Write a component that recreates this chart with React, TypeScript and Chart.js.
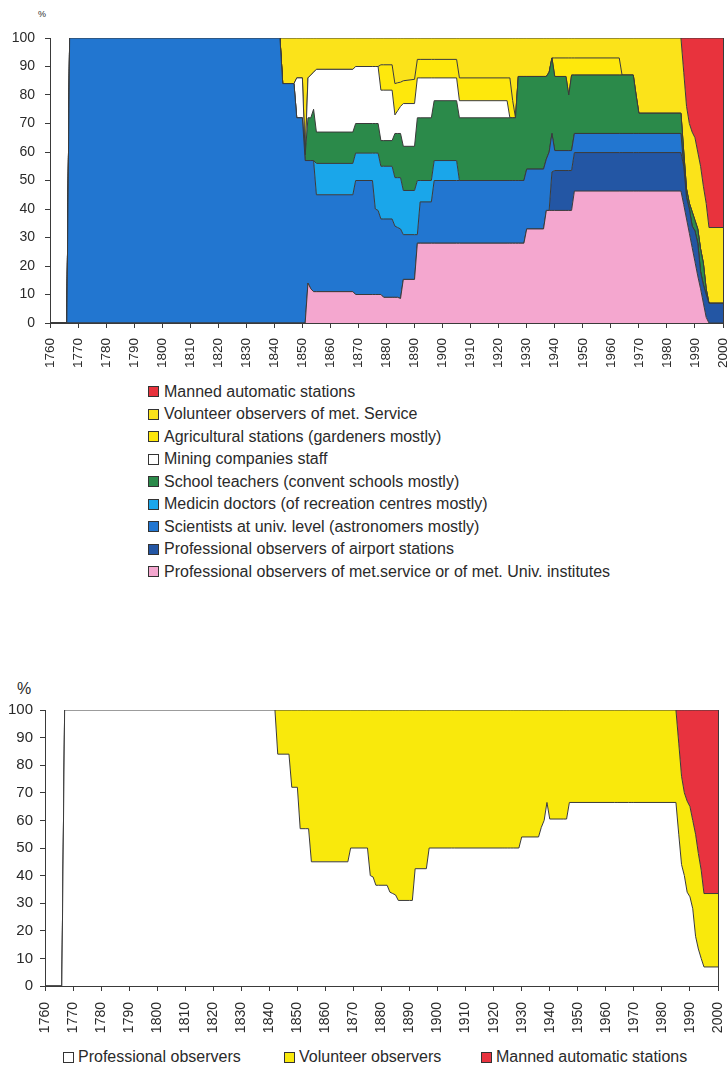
import React, { useEffect, useRef } from 'react';
import { Chart, registerables } from 'chart.js';

Chart.register(...registerables);

// ---------- DATA (% of stations, stacked bottom -> top) ----------
const years = [
  1760, 1766, 1767, 1842, 1843, 1847, 1848, 1850, 1851, 1852,
  1853, 1854, 1855, 1868, 1869, 1875, 1876, 1877, 1878, 1879,
  1882, 1883, 1884, 1885, 1886, 1890, 1891, 1892, 1896, 1897,
  1905, 1906, 1923, 1924, 1925, 1926, 1927, 1929, 1930, 1936,
  1937, 1938, 1939, 1940, 1944, 1945, 1946, 1947, 1963, 1964,
  1968, 1969, 1970, 1985, 1986, 1987, 1988, 1989, 1990, 1991,
  1992, 1993, 1994, 1995, 2000,
];

const profMet = [
  0, 0, 0, 0, 0, 0, 0, 0, 0, 14,
  12, 11, 11, 11, 10, 10, 10, 10, 10, 9,
  9, 9, 9, 8.6, 15.3, 15.3, 28, 28, 28, 28,
  28, 28, 28, 28, 28, 28, 28, 28, 33, 33,
  39.5, 39.5, 39.5, 39.5, 39.5, 39.5, 39.5, 46.3, 46.3, 46.3,
  46.3, 46.3, 46.3, 46.3, 41.5, 36.5, 31.5, 26.5, 21.5, 16.5,
  12, 7, 2, 0, 0,
];

const airport = [
  0, 0, 0, 0, 0, 0, 0, 0, 0, 0,
  0, 0, 0, 0, 0, 0, 0, 0, 0, 0,
  0, 0, 0, 0, 0, 0, 0, 0, 0, 0,
  0, 0, 0, 0, 0, 0, 0, 0, 0, 0,
  0, 0, 13.5, 14, 14, 14, 14, 13.5, 13.5, 13.5,
  13.5, 13.5, 13.5, 13.5, 13.5, 7.5, 8.5, 7.5, 10.8, 11.5,
  6, 6.4, 8, 6.9, 6.9,
];

const scientists = [
  0, 0, 100, 100, 84, 84, 72, 72, 57, 43,
  45, 46, 34, 34, 40, 40, 30, 29.5, 26.5, 27.5,
  27.5, 25, 24.5, 24.4, 15.7, 15.7, 3, 14.5, 14.5, 22,
  22, 22, 22, 22, 22, 22, 22, 22, 21, 21,
  18, 20.5, 13.5, 7, 7, 7, 7, 6.7, 6.7, 6.7,
  6.7, 6.7, 6.7, 6.7, 0, 0, 0, 0, 0, 0,
  0, 0, 0, 0, 0,
];

const medicin = [
  0, 0, 0, 0, 0, 0, 0, 0, 0, 0,
  0, 0, 11, 11, 9.6, 9.6, 19.6, 20.1, 18.5, 18.5,
  18.5, 17, 17.5, 18, 15.5, 15.5, 19, 7.5, 7.5, 7,
  7, 0, 0, 0, 0, 0, 0, 0, 0, 0,
  0, 0, 0, 0, 0, 0, 0, 0, 0, 0,
  0, 0, 0, 0, 0, 0, 0, 0, 0, 0,
  0, 0, 0, 0, 0,
];

const teachers = [
  0, 0, 0, 0, 0, 0, 0, 0, 2, 15,
  15, 18, 11, 11, 10.4, 10.4, 10.4, 10.4, 9, 9,
  9, 15.5, 15.5, 15.5, 15.5, 15.5, 22, 22, 22, 21,
  21, 22, 22, 22, 22, 22, 36.5, 36.5, 32.5, 32.5,
  29, 28, 26.5, 26, 26, 19.5, 26.5, 20.5, 20.5, 20.5,
  20.5, 13.5, 7.1, 7.1, 5, 3, 2, 5, 3.7, 5,
  8, 7.6, 2, 0, 0,
];

const mining = [
  0, 0, 0, 0, 0, 0, 14, 14, 0, 14,
  15, 13, 22, 22, 20, 20, 20, 20, 17.7, 17.7,
  17.7, 6.5, 8, 9.5, 15, 15, 14, 14, 14, 8,
  8, 6, 6, 0, 0, 0, 0, 0, 0, 0,
  0, 0, 0, 0, 0, 0, 0, 0, 0, 0,
  0, 0, 0, 0, 0, 0, 0, 0, 0, 0,
  0, 0, 0, 0, 0,
];

const agricultural = [
  0, 0, 0, 0, 0, 0, 0, 0, 0, 0,
  0, 0, 0, 0, 0, 0, 0, 0, 8.9, 8.9,
  8.9, 11, 9.8, 8.5, 8, 8.5, 6.5, 6.5, 6.5, 6.5,
  6.5, 8, 8, 14, 6, 0, 0, 0, 0, 0,
  0, 0, 0, 6.5, 6.5, 13, 6, 6, 6, 0,
  0, 0, 0, 0, 0, 0, 0, 0, 0, 0,
  0, 0, 0, 0, 0,
];

const volunteerMet = [
  0, 0, 0, 0, 16, 16, 14, 14, 41, 14,
  13, 12, 11, 11, 10, 10, 10, 10, 9.4, 9.4,
  9.4, 16, 15.7, 15.5, 15, 14.5, 7.5, 7.5, 7.5, 7.5,
  7.5, 14, 14, 14, 22, 28, 13.5, 13.5, 13.5, 13.5,
  13.5, 12, 7, 7, 7, 7, 7, 7, 7, 13,
  13, 20, 26.4, 26.4, 28, 29, 28, 28, 29, 27,
  29, 27, 30, 26.6, 26.6,
];

const manned = [
  0, 0, 0, 0, 0, 0, 0, 0, 0, 0,
  0, 0, 0, 0, 0, 0, 0, 0, 0, 0,
  0, 0, 0, 0, 0, 0, 0, 0, 0, 0,
  0, 0, 0, 0, 0, 0, 0, 0, 0, 0,
  0, 0, 0, 0, 0, 0, 0, 0, 0, 0,
  0, 0, 0, 0, 12, 24, 30, 33, 35, 40,
  45, 52, 58, 66.5, 66.5,
];

// bottom chart
const professional = [
  0, 0, 100, 100, 84, 84, 72, 72, 57, 57,
  57, 57, 45, 45, 50, 50, 40, 39.5, 36.5, 36.5,
  36.5, 34, 33.5, 33, 31, 31, 31, 42.5, 42.5, 50,
  50, 50, 50, 50, 50, 50, 50, 50, 54, 54,
  57.5, 60, 66.5, 60.5, 60.5, 60.5, 60.5, 66.5, 66.5, 66.5,
  66.5, 66.5, 66.5, 66.5, 55, 44, 40, 34, 32.3, 28,
  18, 13.4, 10, 6.9, 6.9,
];

const volunteer = [
  0, 0, 0, 0, 16, 16, 28, 28, 43, 43,
  43, 43, 55, 55, 50, 50, 60, 60.5, 63.5, 63.5,
  63.5, 66, 66.5, 67, 69, 69, 69, 57.5, 57.5, 50,
  50, 50, 50, 50, 50, 50, 50, 50, 46, 46,
  42.5, 40, 33.5, 39.5, 39.5, 39.5, 39.5, 33.5, 33.5, 33.5,
  33.5, 33.5, 33.5, 33.5, 33, 32, 30, 33, 32.7, 32,
  37, 34.6, 32, 26.6, 26.6,
];

// ---------- STYLE ----------
const FONT = '"Liberation Sans", Arial, Helvetica, sans-serif';
const TEXT = '#2a2a2a';
const LINE = '#3a3a3a';

type Series = { label: string; data: number[]; color: string };

const topSeries: Series[] = [
  { label: 'Professional observers of met.service or of met. Univ. institutes', data: profMet, color: '#f4a7cf' },
  { label: 'Professional observers of airport stations', data: airport, color: '#2356a4' },
  { label: 'Scientists at univ. level (astronomers mostly)', data: scientists, color: '#2276d0' },
  { label: 'Medicin doctors (of recreation centres mostly)', data: medicin, color: '#1aa6ea' },
  { label: 'School teachers (convent schools mostly)', data: teachers, color: '#2b8a4a' },
  { label: 'Mining companies staff', data: mining, color: '#ffffff' },
  { label: 'Agricultural stations (gardeners mostly)', data: agricultural, color: '#fee80c' },
  { label: 'Volunteer observers of met. Service', data: volunteerMet, color: '#fbe31a' },
  { label: 'Manned automatic stations', data: manned, color: '#e8333d' },
];

const bottomSeries: Series[] = [
  { label: 'Professional observers', data: professional, color: '#ffffff' },
  { label: 'Volunteer observers', data: volunteer, color: '#f9e90c' },
  { label: 'Manned automatic stations', data: manned, color: '#e8333f' },
];

type ChartCfg = {
  series: Series[];
  top: number;
  height: number;
  padTop: number;
  yWidth: number;
  rightWidth: number;
  xHeight: number;
  xFont: number;
  yFont: number;
  xPad: number;
  yPad: number;
};

function AreaChart(props: ChartCfg) {
  const ref = useRef<HTMLCanvasElement>(null);
  useEffect(() => {
    const p = props;
    const chart = new Chart(ref.current as HTMLCanvasElement, {
      type: 'line',
      data: {
        datasets: p.series.map((s, i) => ({
          label: s.label,
          data: years.map((x, j) => ({ x, y: s.data[j] })),
          backgroundColor: s.color,
          borderColor: LINE,
          borderWidth: 1,
          pointRadius: 0,
          pointHoverRadius: 0,
          tension: 0,
          fill: i === 0 ? 'origin' : '-1',
        })),
      },
      options: {
        animation: false,
        responsive: false,
        devicePixelRatio: 1,
        events: [],
        layout: { padding: { top: p.padTop, left: 0, right: 0, bottom: 0 }, autoPadding: false },
        plugins: { legend: { display: false }, tooltip: { enabled: false } },
        scales: {
          x: {
            type: 'linear',
            min: 1760,
            max: 2000,
            afterFit: (s: any) => {
              s.height = p.xHeight;
              s.paddingLeft = 0;
              s.paddingRight = 0;
            },
            ticks: {
              stepSize: 10,
              autoSkip: false,
              maxRotation: 90,
              minRotation: 90,
              padding: p.xPad,
              color: TEXT,
              font: { family: FONT, size: p.xFont },
              callback: (v: any) => String(v),
            },
            grid: { display: true, drawOnChartArea: false, drawTicks: true, tickLength: 5, color: LINE },
            border: { display: true, color: LINE, width: 1 },
          },
          y: {
            type: 'linear',
            stacked: true,
            min: 0,
            max: 100,
            afterFit: (s: any) => {
              s.width = p.yWidth;
              s.paddingTop = 0;
              s.paddingBottom = 0;
            },
            ticks: {
              stepSize: 10,
              padding: p.yPad,
              color: TEXT,
              font: { family: FONT, size: p.yFont },
            },
            grid: { display: true, drawOnChartArea: false, drawTicks: true, tickLength: 5, color: LINE },
            border: { display: true, color: LINE, width: 1 },
          },
          yr: {
            type: 'linear',
            position: 'right',
            min: 0,
            max: 100,
            afterFit: (s: any) => {
              s.width = p.rightWidth;
              s.paddingTop = 0;
              s.paddingBottom = 0;
            },
            ticks: { display: false },
            grid: { display: false, drawTicks: false },
            border: { display: true, color: LINE, width: 1 },
          },
        },
      } as any,
    });
    return () => chart.destroy();
  }, []);
  return (
    <canvas
      ref={ref}
      width={727}
      height={props.height}
      style={{ position: 'absolute', left: 0, top: props.top, width: 727, height: props.height }}
    />
  );
}

function LegendBox({ color }: { color: string }) {
  return (
    <span
      style={{
        display: 'inline-block',
        width: 11,
        height: 11,
        boxSizing: 'border-box',
        border: '1px solid #333',
        background: color,
        flex: '0 0 auto',
      }}
    />
  );
}

export default function App() {
  const topLegend = [...topSeries].reverse();
  return (
    <div
      style={{
        position: 'absolute',
        left: 0,
        top: 0,
        width: 727,
        height: 1073,
        background: '#ffffff',
        fontFamily: FONT,
        color: TEXT,
        overflow: 'hidden',
      }}
    >
      <div style={{ position: 'absolute', left: 38, top: 10, fontSize: 9, lineHeight: '9px' }}>%</div>
      <AreaChart
        series={topSeries}
        top={0}
        height={375}
        padTop={38}
        yWidth={50}
        rightWidth={4}
        xHeight={52}
        xFont={13.5}
        yFont={14}
        xPad={10}
        yPad={10}
      />
      {topLegend.map((s, i) => (
        <div
          key={s.label}
          style={{
            position: 'absolute',
            left: 148,
            top: 391.7 - 11 + i * 22.5,
            height: 22,
            display: 'flex',
            alignItems: 'center',
            fontSize: 16,
            whiteSpace: 'nowrap',
          }}
        >
          <LegendBox color={s.color} />
          <span style={{ marginLeft: 5 }}>{s.label}</span>
        </div>
      ))}

      <div style={{ position: 'absolute', left: 17, top: 681, fontSize: 16, lineHeight: '16px' }}>%</div>
      <AreaChart
        series={bottomSeries}
        top={640}
        height={400}
        padTop={70}
        yWidth={45}
        rightWidth={9}
        xHeight={54}
        xFont={14}
        yFont={15}
        xPad={11}
        yPad={7}
      />
      {bottomSeries.map((s, i) => (
        <div
          key={s.label}
          style={{
            position: 'absolute',
            left: [63, 284, 481][i],
            top: 1057 - 11,
            height: 22,
            display: 'flex',
            alignItems: 'center',
            fontSize: 16,
            whiteSpace: 'nowrap',
          }}
        >
          <LegendBox color={s.color} />
          <span style={{ marginLeft: 4 }}>{s.label}</span>
        </div>
      ))}
    </div>
  );
}
